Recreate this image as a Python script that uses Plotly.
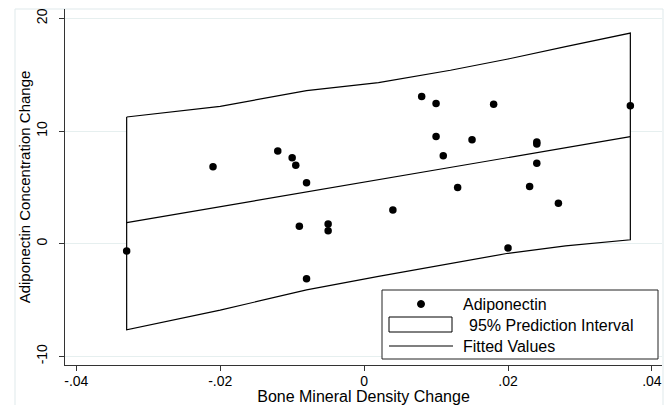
import plotly.graph_objects as go

# Scatter data: bone mineral density change vs adiponectin concentration change
bmd_change = [-0.033, -0.021, -0.012, -0.010, -0.0095, -0.008, -0.009, -0.005, -0.005, -0.008,
              0.004, 0.008, 0.010, 0.010, 0.011, 0.013, 0.015, 0.018, 0.020, 0.023,
              0.024, 0.024, 0.024, 0.027, 0.037]
adiponectin_change = [-0.65, 6.84, 8.24, 7.64, 6.97, 5.42, 1.55, 1.75, 1.16, -3.11,
                      3.0, 13.07, 12.44, 9.51, 7.82, 4.98, 9.22, 12.39, -0.38, 5.07,
                      9.04, 8.85, 7.14, 3.59, 12.24]

# 95% prediction interval
band_x = [-0.033, -0.020, -0.008, 0.002, 0.012, 0.020, 0.028, 0.037]
band_upper = [11.25, 12.2, 13.6, 14.3, 15.4, 16.4, 17.5, 18.7]
band_lower = [-7.65, -5.9, -4.1, -2.9, -1.75, -0.85, -0.2, 0.35]

# Fitted values (linear fit)
fit_x = [-0.033, 0.037]
fit_y = [1.87, 9.5]

x_ticks = [-0.04, -0.02, 0, 0.02, 0.04]
x_ticklabels = ["-.04", "-.02", "0", ".02", ".04"]
y_ticks = [-10, 0, 10, 20]
y_ticklabels = ["-10", "0", "10", "20"]

legend_labels = ["Adiponectin", "95% Prediction Interval", "Fitted Values"]

FONT = "Liberation Sans, Arial, sans-serif"

# layout geometry (page pixels; the page body adds an 8px offset)
PLOT_L, PLOT_R, PLOT_T, PLOT_B = 65, 662, 9, 365


def px(sx):
    return (sx - PLOT_L) / (PLOT_R - PLOT_L)


def py(sy):
    return (PLOT_B - sy) / (PLOT_B - PLOT_T)


fig = go.Figure()

poly_x = band_x + band_x[::-1] + [band_x[0]]
poly_y = band_upper + band_lower[::-1] + [band_upper[0]]
fig.add_trace(go.Scatter(
    x=poly_x, y=poly_y, mode="lines", fill="toself", fillcolor="white",
    line=dict(color="black", width=1.2), name=legend_labels[1],
    showlegend=False, hoverinfo="skip"))

fig.add_trace(go.Scatter(
    x=fit_x, y=fit_y, mode="lines", line=dict(color="black", width=1.2),
    name=legend_labels[2], showlegend=False))

fig.add_trace(go.Scatter(
    x=bmd_change, y=adiponectin_change, mode="markers",
    marker=dict(color="black", size=7.5), name=legend_labels[0],
    showlegend=False))

# faint outer frame
fig.add_shape(type="rect", xref="paper", yref="paper",
              x0=px(15), x1=px(663), y0=py(420), y1=py(9),
              line=dict(color="#dfe9eb", width=1), fillcolor="rgba(0,0,0,0)",
              layer="below")

# legend box drawn by hand (Stata-style symbols)
fig.add_shape(type="rect", xref="paper", yref="paper",
              x0=px(382), x1=px(658), y0=py(359), y1=py(290),
              line=dict(color="#222", width=1), fillcolor="white", layer="above")
fig.add_shape(type="circle", xref="paper", yref="paper",
              x0=px(417.5), x1=px(424.5), y0=py(307.5), y1=py(300.5),
              line=dict(color="black", width=1), fillcolor="black", layer="above")
fig.add_shape(type="rect", xref="paper", yref="paper",
              x0=px(389), x1=px(452), y0=py(332), y1=py(317),
              line=dict(color="black", width=1), fillcolor="white", layer="above")
fig.add_shape(type="line", xref="paper", yref="paper",
              x0=px(389), x1=px(453), y0=py(346), y1=py(346),
              line=dict(color="black", width=1.2), layer="above")

for label, sx, sy in zip(legend_labels, [461, 467, 461], [304, 325, 346]):
    fig.add_annotation(text=label, xref="paper", yref="paper",
                       x=px(sx), y=py(sy), xanchor="left", yanchor="middle",
                       showarrow=False, font=dict(size=16, family=FONT, color="black"))

fig.update_layout(
    width=664, height=397,
    margin=dict(l=PLOT_L - 8, r=672 - PLOT_R - 0, t=PLOT_T - 8, b=405 - PLOT_B),
    paper_bgcolor="white", plot_bgcolor="white",
    font=dict(family=FONT, size=14, color="black"),
    showlegend=False,
    xaxis=dict(
        range=[-0.04157, 0.0414], tickvals=x_ticks, ticktext=x_ticklabels,
        showgrid=False, zeroline=False, showline=True, linecolor="#333",
        linewidth=1, ticks="outside", ticklen=5, tickcolor="#333",
        automargin=False, ticklabelstandoff=-2,
        title=dict(text="Bone Mineral Density Change", standoff=0,
                   font=dict(size=16)),
        tickfont=dict(size=14),
    ),
    yaxis=dict(
        range=[-10.77, 20.84], tickvals=y_ticks, ticktext=y_ticklabels,
        showgrid=True, gridcolor="#e6efef", gridwidth=1, zeroline=False,
        showline=True, linecolor="#333", linewidth=1, ticks="outside",
        ticklen=5, tickcolor="#333", tickangle=-90, automargin=False,
        ticklabelstandoff=6,
        title=dict(text="Adiponectin Concentration Change", standoff=0,
                   font=dict(size=15)),
        tickfont=dict(size=14),
    ),
)

fig.write_html("out.html")
